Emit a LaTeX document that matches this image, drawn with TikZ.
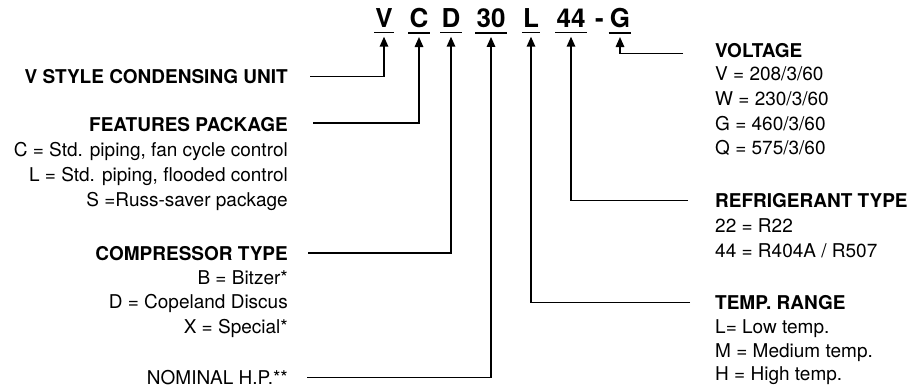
\documentclass[tikz,border=0pt]{standalone}
\usepackage{fontspec}
\setmainfont{TeX Gyre Heros}
\usetikzlibrary{arrows.meta}
\begin{document}
\begin{tikzpicture}[x=1pt,y=-1pt,
  ttl/.style={inner sep=0pt, anchor=base, font=\fontsize{26}{26}\selectfont\bfseries},
  hd/.style={inner sep=0pt, font=\fontsize{19}{19}\selectfont\bfseries},
  it/.style={inner sep=0pt, font=\fontsize{19}{19}\selectfont},
  lft/.style={anchor=base east},
  rgt/.style={anchor=base west},
  conn/.style={line width=1.6pt, -{Triangle[length=10pt,width=8.5pt]}},
  uline/.style={line width=1.4pt}]
\useasboundingbox (0,0) rectangle (914,390);
% title code
\node[ttl] (tV)  at (384,28) {V};
\node[ttl] (tC)  at (419,28) {C};
\node[ttl] (tD)  at (451,28) {D};
\node[ttl] (t30) at (491,28) {30};
\node[ttl] (tL)  at (531,28) {L};
\node[ttl] (t44) at (571,28) {44};
\node[ttl] (tdash) at (599.5,28) {-};
\node[ttl] (tG)  at (620,28) {G};
\foreach \n in {tV,tC,tD,t30,tL,t44,tG}
  \draw[uline] ([xshift=-1pt,yshift=-4.5pt]\n.south west) -- ([xshift=1pt,yshift=-4.5pt]\n.south east);
% left labels
\node[hd,lft] (lV) at (288,83.5) {V STYLE CONDENSING UNIT};
\node[hd,lft] (lF) at (288,132) {FEATURES PACKAGE};
\node[it,lft] (lF1) at (288,157) {C = Std. piping, fan cycle control};
\node[it,lft] (lF2) at (288,181.5) {L = Std. piping, flooded control};
\node[it,lft] (lF3) at (288,206.5) {S =Russ-saver package};
\node[hd,lft] (lCo) at (288,261) {COMPRESSOR TYPE};
\node[it,lft] (lCo1) at (288,284.5) {B = Bitzer*};
\node[it,lft] (lCo2) at (288,308.5) {D = Copeland Discus};
\node[it,lft] (lCo3) at (288,333.5) {X = Special*};
\node[it,lft] (lN) at (288,384.5) {NOMINAL H.P.**};
% right labels
\node[hd,rgt] (rG) at (715,57.5) {VOLTAGE};
\node[it,rgt] (rG1) at (715,81) {V = 208/3/60};
\node[it,rgt] (rG2) at (715,106) {W = 230/3/60};
\node[it,rgt] (rG3) at (715,130.5) {G = 460/3/60};
\node[it,rgt] (rG4) at (715,155) {Q = 575/3/60};
\node[hd,rgt] (rR) at (715,207.5) {REFRIGERANT TYPE};
\node[it,rgt] (rR1) at (715,232.5) {22 = R22};
\node[it,rgt] (rR2) at (715,257.5) {44 = R404A / R507};
\node[hd,rgt] (rT) at (715,309.5) {TEMP. RANGE};
\node[it,rgt] (rT1) at (715,334) {L= Low temp.};
\node[it,rgt] (rT2) at (715,358) {M = Medium temp.};
\node[it,rgt] (rT3) at (715,381) {H = High temp.};
% connectors
\draw[conn] ([xshift=22pt]lV.east) -| ([yshift=-8.5pt]tV.south);
\draw[conn] ([xshift=25pt,yshift=2pt]lF.east) -| ([yshift=-8.5pt]tC.south);
\draw[conn] ([xshift=20pt,yshift=1pt]lCo.east) -| ([yshift=-8.5pt]tD.south);
\draw[conn] ([xshift=19pt]lN.east) -| ([yshift=-8.5pt]t30.south);
\draw[conn] ([xshift=-32pt,yshift=-3pt]rG.west) -| ([yshift=-8.5pt]tG.south);
\draw[conn] ([xshift=-27pt]rR.west) -| ([yshift=-8.5pt]t44.south);
\draw[conn] ([xshift=-25pt]rT.west) -| ([yshift=-8.5pt]tL.south);
\end{tikzpicture}
\end{document}
